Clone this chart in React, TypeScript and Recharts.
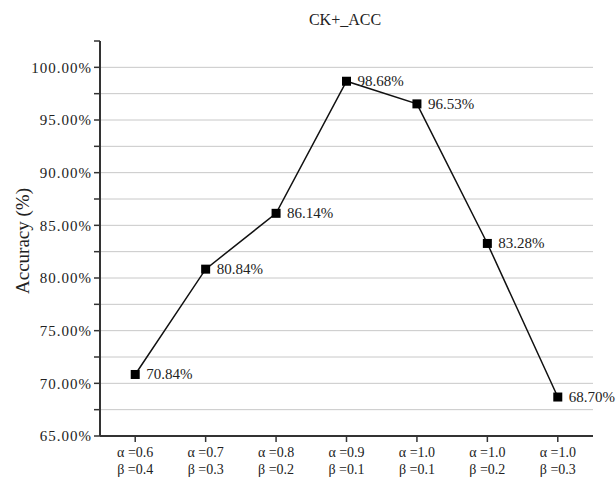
import React from "react";
import {
  LineChart,
  Line,
  XAxis,
  YAxis,
  CartesianGrid,
  LabelList,
} from "recharts";

const alphaLabels = ["α =0.6", "α =0.7", "α =0.8", "α =0.9", "α =1.0", "α =1.0", "α =1.0"];
const betaLabels = ["β =0.4", "β =0.3", "β =0.2", "β =0.1", "β =0.1", "β =0.2", "β =0.3"];
const accValues = [70.84, 80.84, 86.14, 98.68, 96.53, 83.28, 68.7];
const yTicks = [65, 67.5, 70, 72.5, 75, 77.5, 80, 82.5, 85, 87.5, 90, 92.5, 95, 97.5, 100, 102.5];
const gridValues = [67.5, 70, 72.5, 75, 77.5, 80, 82.5, 85, 87.5, 90, 92.5, 95, 97.5, 100];

const FONT = "'Liberation Serif', 'DejaVu Serif', serif";
const AXIS = "#333";

const data = alphaLabels.map((a, i) => ({
  key: String(i),
  alpha: a,
  beta: betaLabels[i],
  acc: accValues[i],
}));

const XTick = (props: any) => {
  const { x, y, payload } = props;
  const row = data[Number(payload.value)];
  return (
    <text x={x} y={y} textAnchor="middle" fontFamily={FONT} fontSize={14} fill="#222">
      <tspan x={x} dy={13}>{row.alpha}</tspan>
      <tspan x={x} dy={17}>{row.beta}</tspan>
    </text>
  );
};

const Square = (props: any) => {
  const { cx, cy } = props;
  return <rect x={cx - 4.5} y={cy - 4.5} width={9} height={9} fill="#000" />;
};

const PointLabel = (props: any) => {
  const { x, y, value } = props;
  return (
    <text x={x + 11} y={y + 5} fontFamily={FONT} fontSize={15} fill="#222">
      {`${Number(value).toFixed(2)}%`}
    </text>
  );
};

const YLabel = () => (
  <text
    x={22}
    y={241}
    transform="rotate(-90 22 241)"
    textAnchor="middle"
    dominantBaseline="central"
    fontFamily={FONT}
    fontSize={19}
    fill="#222"
  >
    Accuracy (%)
  </text>
);

export default function App() {
  return (
    <div style={{ position: "absolute", left: 0, top: 0, width: 616, height: 482, background: "#fff" }}>
      <div
        style={{
          position: "absolute",
          left: 0,
          width: 690,
          top: 11,
          textAlign: "center",
          fontFamily: FONT,
          fontSize: 16,
          color: "#222",
        }}
      >
        CK+_ACC
      </div>
      <LineChart
        width={616}
        height={482}
        data={data}
        margin={{ top: 41, right: 23, bottom: 0, left: 0 }}
      >
        <CartesianGrid
          vertical={false}
          stroke="#c8c8c8"
          strokeWidth={1}
          horizontalValues={gridValues}
        />
        <XAxis
          dataKey="key"
          scale="band"
          height={46}
          tick={<XTick />}
          tickLine={{ stroke: AXIS, strokeWidth: 1.5 }}
          tickSize={6}
          axisLine={{ stroke: AXIS, strokeWidth: 2 }}
          interval={0}
        />
        <YAxis
          width={100}
          domain={[65, 102.5]}
          ticks={yTicks}
          interval={0}
          tickFormatter={(v: number) => (v % 5 === 0 ? `${v.toFixed(2)}%` : "")}
          tick={{ fontFamily: FONT, fontSize: 15, fill: "#222", letterSpacing: 1 }}
          tickLine={{ stroke: AXIS, strokeWidth: 1.5 }}
          tickSize={6}
          axisLine={{ stroke: AXIS, strokeWidth: 2 }}
          label={<YLabel />}
        />
        <Line
          type="linear"
          dataKey="acc"
          stroke="#111"
          strokeWidth={1.5}
          dot={<Square />}
          activeDot={false}
          isAnimationActive={false}
        >
          <LabelList dataKey="acc" content={<PointLabel />} />
        </Line>
      </LineChart>
    </div>
  );
}
